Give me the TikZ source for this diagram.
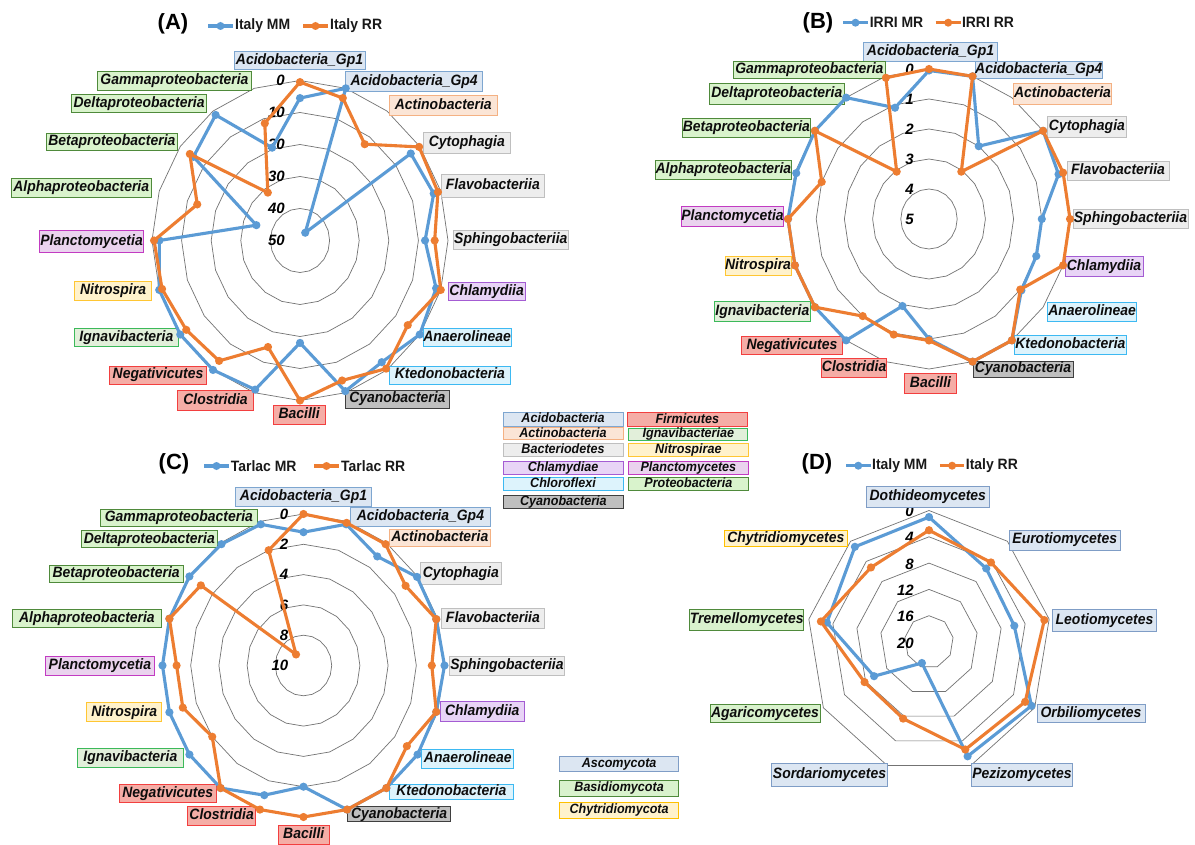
\documentclass[tikz,border=0pt]{standalone}
\usepackage{fontspec}
\setmainfont{Liberation Sans}
\usepackage{graphicx}
\definecolor{sblue}{HTML}{5B9BD5}
\definecolor{sorange}{HTML}{ED7D31}
\definecolor{acidoL}{HTML}{DCE6F2}\definecolor{acidoD}{HTML}{7EA6D0}
\definecolor{actinoL}{HTML}{FBE5D6}\definecolor{actinoD}{HTML}{F4B183}
\definecolor{bactL}{HTML}{EDEDED}\definecolor{bactD}{HTML}{BFBFBF}
\definecolor{chlamL}{HTML}{E8D4F6}\definecolor{chlamD}{HTML}{A45CD3}
\definecolor{chloroL}{HTML}{DDF3FC}\definecolor{chloroD}{HTML}{3DB9F2}
\definecolor{cyanoL}{HTML}{BFBFBF}\definecolor{cyanoD}{HTML}{3F3F3F}
\definecolor{firmL}{HTML}{F5ADA6}\definecolor{firmD}{HTML}{F23F3F}
\definecolor{ignaviL}{HTML}{E2EFDA}\definecolor{ignaviD}{HTML}{3CB95A}
\definecolor{nitroL}{HTML}{FFF2CC}\definecolor{nitroD}{HTML}{FFC633}
\definecolor{planctoL}{HTML}{EAD3EE}\definecolor{planctoD}{HTML}{C23BC2}
\definecolor{proteoL}{HTML}{D9F3CC}\definecolor{proteoD}{HTML}{4F8A3B}
\definecolor{ascoL}{HTML}{DCE6F2}\definecolor{ascoD}{HTML}{7F9DC6}
\definecolor{basidL}{HTML}{D9F2CD}\definecolor{basidD}{HTML}{4F8A3B}
\definecolor{chytrL}{HTML}{FFF2CC}\definecolor{chytrD}{HTML}{FFC000}
\newcommand\sqz[1]{\scalebox{0.93}[1]{#1}}
\newcommand\lbl[7]{\node[#2, minimum width={(#5)-(#3)}, minimum height={(#6)-(#4)}] (#1) at ({((#3)+(#5))/2},{((#4)+(#6))/2}) {\sqz{#7}};}
\tikzset{
  ring/.style={draw=black!55, line width=0.7pt},
  serB/.style={draw=sblue, line width=3.1pt, line join=round, line cap=round},
  serO/.style={draw=sorange, line width=3.1pt, line join=round, line cap=round},
  num/.style={font=\fontsize{15}{16}\selectfont\bfseries\itshape, inner sep=0pt, anchor=east, text=black},
  lab/.style={line width=0.9pt, inner sep=0pt, font=\fontsize{15}{16}\selectfont\bfseries\itshape, text=black!95, text height=10.6pt, text depth=3pt},
  keyfont/.style={font=\fontsize{13.5}{14}\selectfont\bfseries\itshape, text height=9.4pt, text depth=2.6pt},
  cAcido/.style={lab, draw=acidoD, fill=acidoL},
  cActino/.style={lab, draw=actinoD, fill=actinoL},
  cBact/.style={lab, draw=bactD, fill=bactL},
  cChlam/.style={lab, draw=chlamD, fill=chlamL},
  cChloro/.style={lab, draw=chloroD, fill=chloroL},
  cCyano/.style={lab, draw=cyanoD, fill=cyanoL},
  cFirm/.style={lab, draw=firmD, fill=firmL},
  cIgnavi/.style={lab, draw=ignaviD, fill=ignaviL},
  cNitro/.style={lab, draw=nitroD, fill=nitroL},
  cPlancto/.style={lab, draw=planctoD, fill=planctoL},
  cProteo/.style={lab, draw=proteoD, fill=proteoL},
  cAsco/.style={lab, draw=ascoD, fill=ascoL},
  cBasid/.style={lab, draw=basidD, fill=basidL},
  cChytr/.style={lab, draw=chytrD, fill=chytrL},
  ttl/.style={font=\fontsize{22}{24}\selectfont\bfseries, inner sep=0pt, text=black},
  leg/.style={font=\fontsize{15}{16}\selectfont\bfseries, inner sep=0pt, anchor=west, text=black!90},
}
\begin{document}
\begin{tikzpicture}[x=1pt, y=-1pt]
\useasboundingbox (0,0) rectangle (1195,845);
\fill[white] (0,0) rectangle (1195,845);

% ---------------- grids and data coordinates ----------------
\begin{scope}[shift={(300,240.5)}, x=148pt, y=-160pt]
  \foreach \f in {0.2,0.4,0.6,0.8,1}
    \draw[ring] (-90:\f) \foreach \k in {1,...,19} {-- ({18*\k-90}:\f)} -- cycle;
  \foreach \rv [count=\i from 0] in {0.89,1.0,0.06,0.925,0.95,0.845,0.967,1.0,0.94,0.99,0.64,0.98,1.0,1.0,1.0,0.95,0.31,0.89,0.97,0.61}
    \coordinate (AB\i) at ({18*\i-90}:\rv);
  \foreach \rv [count=\i from 0] in {0.99,0.936,0.744,0.995,0.98,0.91,1.0,0.90,0.99,0.92,1.0,0.70,0.93,0.95,0.98,0.986,0.73,0.92,0.37,0.77}
    \coordinate (AO\i) at ({18*\i-90}:\rv);
\end{scope}
\begin{scope}[shift={(929,219)}, x=141pt, y=-150pt]
  \foreach \f in {0.2,0.4,0.6,0.8,1}
    \draw[ring] (-90:\f) \foreach \k in {1,...,19} {-- ({18*\k-90}:\f)} -- cycle;
  \foreach \rv [count=\i from 0] in {0.99,1.0,0.6,1.0,0.966,0.8,0.8,0.81,1.0,1.0,0.8,0.61,1.0,1.0,1.0,1.0,0.99,1.0,1.0,0.78}
    \coordinate (BB\i) at ({18*\i-90}:\rv);
  \foreach \rv [count=\i from 0] in {1.0,1.0,0.39,1.0,1.0,1.0,1.0,0.80,1.0,1.0,0.81,0.81,0.80,1.0,1.0,1.0,0.80,1.0,0.39,0.99}
    \coordinate (BO\i) at ({18*\i-90}:\rv);
\end{scope}
\begin{scope}[shift={(303.5,665.5)}, x=141pt, y=-151.5pt]
  \foreach \f in {0.2,0.4,0.6,0.8,1}
    \draw[ring] (-90:\f) \foreach \k in {1,...,19} {-- ({18*\k-90}:\f)} -- cycle;
  \foreach \rv [count=\i from 0] in {0.88,0.98,0.89,0.995,0.99,1.0,0.99,1.0,1.0,1.0,0.80,0.90,1.0,1.0,1.0,1.0,1.0,1.0,0.99,0.98}
    \coordinate (CB\i) at ({18*\i-90}:\rv);
  \foreach \rv [count=\i from 0] in {1.0,0.99,0.99,0.895,0.99,0.91,0.99,0.906,1.0,1.0,1.0,1.0,1.0,0.80,0.90,0.90,1.0,0.90,0.09,0.80}
    \coordinate (CO\i) at ({18*\i-90}:\rv);
\end{scope}
\begin{scope}[shift={(929,642)}, x=122pt, y=-131.5pt]
  \foreach \f in {0.2,0.4,0.6,0.8,1}
    \draw[ring] (-90:\f) \foreach \k in {1,...,8} {-- ({40*\k-90}:\f)} -- cycle;
  \foreach \rv [count=\i from 0] in {0.95,0.73,0.71,0.97,0.925,0.17,0.52,0.85,0.945}
    \coordinate (DB\i) at ({40*\i-90}:\rv);
  \foreach \rv [count=\i from 0] in {0.85,0.79,0.96,0.91,0.87,0.62,0.61,0.90,0.74}
    \coordinate (DO\i) at ({40*\i-90}:\rv);
\end{scope}

% ---------------- axis numbers ----------------
\foreach \v [count=\i from 0] in {0,10,20,30,40,50} \node[num] (An\i) at (285,{80.5+32*\i}) {\v};
\foreach \v [count=\i from 0] in {0,1,2,3,4,5} \node[num] (Bn\i) at (914,{69+30*\i}) {\v};
\foreach \v [count=\i from 0] in {0,2,4,6,8,10} \node[num] (Cn\i) at (288.5,{514+30.3*\i}) {\v};
\foreach \v [count=\i from 0] in {0,4,8,12,16,20} \node[num] (Dn\i) at (914,{511.5+26.3*\i}) {\v};

% ---------------- chart A labels ----------------
\lbl{a0}{cAcido}{234}{51.7}{365}{69.5}{Acidobacteria\_Gp1}
\lbl{a1}{cAcido}{345.4}{71}{482.8}{91.7}{Acidobacteria\_Gp4}
\lbl{a2}{cActino}{389}{95.7}{497.6}{115}{Actinobacteria}
\lbl{a3}{cBact}{423}{132.7}{510.7}{153.3}{Cytophagia}
\lbl{a4}{cBact}{441.7}{174.3}{544}{197.7}{Flavobacteriia}
\lbl{a5}{cBact}{453.3}{230}{568.3}{249.5}{Sphingobacteriia}
\lbl{a6}{cChlam}{448.3}{282.7}{525}{300}{Chlamydiia}
\lbl{a7}{cChloro}{423.6}{328}{510.7}{346.7}{Anaerolineae}
\lbl{a8}{cChloro}{389}{366}{510.7}{384}{Ktedonobacteria}
\lbl{a9}{cCyano}{345.4}{390}{449.4}{408.3}{Cyanobacteria}
\lbl{a10}{cFirm}{273}{405}{325.4}{424}{Bacilli}
\lbl{a11}{cFirm}{177.3}{390.7}{253.8}{410}{Clostridia}
\lbl{a12}{cFirm}{109.5}{366}{206.6}{384}{Negativicutes}
\lbl{a13}{cIgnavi}{74.7}{328.3}{178}{346.7}{Ignavibacteria}
\lbl{a14}{cNitro}{74.7}{281.7}{151.5}{300}{Nitrospira}
\lbl{a15}{cPlancto}{39.6}{230.7}{143.6}{252.7}{Planctomycetia}
\lbl{a16}{cProteo}{11}{178.3}{151.5}{197.3}{Alphaproteobacteria}
\lbl{a17}{cProteo}{46.5}{133.3}{177.3}{150.7}{Betaproteobacteria}
\lbl{a18}{cProteo}{71.6}{94.3}{206.6}{112.7}{Deltaproteobacteria}
\lbl{a19}{cProteo}{97.5}{71}{251.4}{90.7}{Gammaproteobacteria}

% ---------------- chart B labels ----------------
\lbl{b0}{cAcido}{863.6}{42.7}{997.5}{61}{Acidobacteria\_Gp1}
\lbl{b1}{cAcido}{975}{61.7}{1102.5}{78.3}{Acidobacteria\_Gp4}
\lbl{b2}{cActino}{1013.6}{83.3}{1111.4}{104}{Actinobacteria}
\lbl{b3}{cBact}{1047}{116.7}{1126.8}{137.7}{Cytophagia}
\lbl{b4}{cBact}{1067}{161.7}{1169}{180}{Flavobacteriia}
\lbl{b5}{cBact}{1073}{209}{1188}{228}{Sphingobacteriia}
\lbl{b6}{cChlam}{1065}{256.7}{1143}{276}{Chlamydiia}
\lbl{b7}{cChloro}{1047.5}{302.7}{1136.8}{321.7}{Anaerolineae}
\lbl{b8}{cChloro}{1014}{335}{1126.8}{354}{Ktedonobacteria}
\lbl{b9}{cCyano}{973}{361}{1073}{377.3}{Cyanobacteria}
\lbl{b10}{cFirm}{904.6}{373.3}{956.4}{393.3}{Bacilli}
\lbl{b11}{cFirm}{821.4}{358.3}{886.8}{377.3}{Clostridia}
\lbl{b12}{cFirm}{741}{336.7}{842.9}{354}{Negativicutes}
\lbl{b13}{cIgnavi}{714}{301.7}{810.7}{321.7}{Ignavibacteria}
\lbl{b14}{cNitro}{725}{256}{791}{275.3}{Nitrospira}
\lbl{b15}{cPlancto}{682}{206.7}{783}{226.7}{Planctomycetia}
\lbl{b16}{cProteo}{655}{160.7}{791.8}{179}{Alphaproteobacteria}
\lbl{b17}{cProteo}{682}{118.3}{810.7}{137.7}{Betaproteobacteria}
\lbl{b18}{cProteo}{709.6}{83.3}{844}{104}{Deltaproteobacteria}
\lbl{b19}{cProteo}{733}{61.7}{885.7}{78.3}{Gammaproteobacteria}

% ---------------- chart C labels ----------------
\lbl{c0}{cAcido}{235.9}{487.3}{371.2}{506.7}{Acidobacteria\_Gp1}
\lbl{c1}{cAcido}{350.2}{507.7}{490.7}{526}{Acidobacteria\_Gp4}
\lbl{c2}{cActino}{389}{529.3}{490.7}{546.7}{Actinobacteria}
\lbl{c3}{cBact}{420.8}{562.7}{501}{584}{Cytophagia}
\lbl{c4}{cBact}{441.8}{608.3}{544}{628.3}{Flavobacteriia}
\lbl{c5}{cBact}{449.4}{656}{564.5}{675.7}{Sphingobacteriia}
\lbl{c6}{cChlam}{440}{701}{524.5}{721.7}{Chlamydiia}
\lbl{c7}{cChloro}{421.8}{749}{513.8}{768.3}{Anaerolineae}
\lbl{c8}{cChloro}{389}{784}{513.8}{799.3}{Ktedonobacteria}
\lbl{c9}{cCyano}{347.8}{806.7}{450.4}{821.7}{Cyanobacteria}
\lbl{c10}{cFirm}{278}{825}{329.5}{844}{Bacilli}
\lbl{c11}{cFirm}{187.7}{806.7}{255.5}{825}{Clostridia}
\lbl{c12}{cFirm}{119.5}{784}{216}{802.7}{Negativicutes}
\lbl{c13}{cIgnavi}{77.5}{748.3}{183.2}{767.7}{Ignavibacteria}
\lbl{c14}{cNitro}{86.8}{702.7}{161.8}{721.7}{Nitrospira}
\lbl{c15}{cPlancto}{45.5}{656}{154.3}{675.7}{Planctomycetia}
\lbl{c16}{cProteo}{12}{609.3}{161.8}{627.3}{Alphaproteobacteria}
\lbl{c17}{cProteo}{49}{565}{183.2}{582.7}{Betaproteobacteria}
\lbl{c18}{cProteo}{81.6}{530.7}{217}{547.7}{Deltaproteobacteria}
\lbl{c19}{cProteo}{100.6}{509}{257.2}{526}{Gammaproteobacteria}

% ---------------- chart D labels ----------------
\lbl{d0}{cAsco}{866.6}{486.7}{989}{507.3}{Dothideomycetes}
\lbl{d1}{cAsco}{1009}{530}{1120.6}{550}{Eurotiomycetes}
\lbl{d2}{cAsco}{1052.8}{609.3}{1156.3}{631.7}{Leotiomycetes}
\lbl{d3}{cAsco}{1037}{704}{1145}{722.7}{Orbiliomycetes}
\lbl{d4}{cAsco}{971}{763.3}{1072.9}{786}{Pezizomycetes}
\lbl{d5}{cAsco}{771.5}{763.3}{887.6}{786}{Sordariomycetes}
\lbl{d6}{cBasid}{710}{704}{820}{722.7}{Agaricomycetes}
\lbl{d7}{cBasid}{689.8}{609.3}{803.7}{630}{Tremellomycetes}
\lbl{d8}{cChytr}{724.6}{530}{847}{546.7}{Chytridiomycetes}

% ---------------- phylum legend ----------------
\lbl{k1}{cAcido,keyfont}{503}{412.7}{623}{426.3}{Acidobacteria}
\lbl{k2}{cActino,keyfont}{503}{427.7}{623}{439.5}{Actinobacteria}
\lbl{k3}{cBact,keyfont}{503}{443.3}{623}{456.9}{Bacteriodetes}
\lbl{k4}{cChlam,keyfont}{503}{461.5}{623}{474.8}{Chlamydiae}
\lbl{k5}{cChloro,keyfont}{503}{477.2}{623}{490.3}{Chloroflexi}
\lbl{k6}{cCyano,keyfont}{503}{495.2}{623.8}{508.2}{Cyanobacteria}
\lbl{k7}{cFirm,keyfont}{627.3}{412.7}{747.3}{426.5}{Firmicutes}
\lbl{k8}{cIgnavi,keyfont}{628.7}{428.3}{747.9}{440.7}{Ignavibacteriae}
\lbl{k9}{cNitro,keyfont}{628.7}{443.3}{748}{456.9}{Nitrospirae}
\lbl{k10}{cPlancto,keyfont}{628.7}{461}{748}{474.3}{Planctomycetes}
\lbl{k11}{cProteo,keyfont}{628.7}{477.7}{748}{490.7}{Proteobacteria}

% ---------------- fungal legend ----------------
\lbl{f1}{cAsco,keyfont}{559.5}{756}{678.7}{771.7}{Ascomycota}
\lbl{f2}{cBasid,keyfont}{559.5}{780}{678.7}{796}{Basidiomycota}
\lbl{f3}{cChytr,keyfont}{559.5}{802.7}{678.7}{818.3}{Chytridiomycota}

% ---------------- data series ----------------
\draw[serB] (AB0) \foreach \i in {1,...,19} {-- (AB\i)} -- cycle;
\foreach \i in {0,...,19} \fill[sblue] (AB\i) circle (4.1pt);
\draw[serO] (AO0) \foreach \i in {1,...,19} {-- (AO\i)} -- cycle;
\foreach \i in {0,...,19} \fill[sorange] (AO\i) circle (4.1pt);

\draw[serB] (BB0) \foreach \i in {1,...,19} {-- (BB\i)} -- cycle;
\foreach \i in {0,...,19} \fill[sblue] (BB\i) circle (4.1pt);
\draw[serO] (BO0) \foreach \i in {1,...,19} {-- (BO\i)} -- cycle;
\foreach \i in {0,...,19} \fill[sorange] (BO\i) circle (4.1pt);

\draw[serB] (CB0) \foreach \i in {1,...,19} {-- (CB\i)} -- cycle;
\foreach \i in {0,...,19} \fill[sblue] (CB\i) circle (4.1pt);
\draw[serO] (CO0) \foreach \i in {1,...,19} {-- (CO\i)} -- cycle;
\foreach \i in {0,...,19} \fill[sorange] (CO\i) circle (4.1pt);

\draw[serB] (DB0) \foreach \i in {1,...,8} {-- (DB\i)} -- cycle;
\foreach \i in {0,...,8} \fill[sblue] (DB\i) circle (4.1pt);
\draw[serO] (DO0) \foreach \i in {1,...,8} {-- (DO\i)} -- cycle;
\foreach \i in {0,...,8} \fill[sorange] (DO\i) circle (4.1pt);

% ---------------- titles and series legends ----------------
\node[ttl] (tA) at (173,24) {(A)};
\coordinate (gA1) at (208,26); \coordinate (gA2) at (233,26); \coordinate (gA3) at (220.5,26);
\draw[serB, line cap=butt] (gA1) -- (gA2); \fill[sblue] (gA3) circle (4pt);
\node[leg] (tA1) at (235,26) {\sqz{Italy MM}};
\coordinate (gA4) at (303,26); \coordinate (gA5) at (328,26); \coordinate (gA6) at (315.5,26);
\draw[serO, line cap=butt] (gA4) -- (gA5); \fill[sorange] (gA6) circle (4pt);
\node[leg] (tA2) at (330,26) {\sqz{Italy RR}};

\node[ttl] (tB) at (818,22.5) {(B)};
\coordinate (gB1) at (843,22.7); \coordinate (gB2) at (868,22.7); \coordinate (gB3) at (855.5,22.7);
\draw[serB, line cap=butt] (gB1) -- (gB2); \fill[sblue] (gB3) circle (4pt);
\node[leg] (tB1) at (869.6,22.7) {\sqz{IRRI MR}};
\coordinate (gB4) at (935.7,22.7); \coordinate (gB5) at (960.7,22.7); \coordinate (gB6) at (948.2,22.7);
\draw[serO, line cap=butt] (gB4) -- (gB5); \fill[sorange] (gB6) circle (4pt);
\node[leg] (tB2) at (961.8,22.7) {\sqz{IRRI RR}};

\node[ttl] (tC) at (174,464) {(C)};
\coordinate (gC1) at (204,466); \coordinate (gC2) at (229,466); \coordinate (gC3) at (216.5,466);
\draw[serB, line cap=butt] (gC1) -- (gC2); \fill[sblue] (gC3) circle (4pt);
\node[leg] (tC1) at (230.7,466) {\sqz{Tarlac MR}};
\coordinate (gC4) at (314,466); \coordinate (gC5) at (339,466); \coordinate (gC6) at (326.5,466);
\draw[serO, line cap=butt] (gC4) -- (gC5); \fill[sorange] (gC6) circle (4pt);
\node[leg] (tC2) at (341,466) {\sqz{Tarlac RR}};

\node[ttl] (tD) at (817,464) {(D)};
\coordinate (gD1) at (846,465.7); \coordinate (gD2) at (870.6,465.7); \coordinate (gD3) at (858.3,465.7);
\draw[serB, line cap=butt] (gD1) -- (gD2); \fill[sblue] (gD3) circle (4pt);
\node[leg] (tD1) at (872,465.7) {\sqz{Italy MM}};
\coordinate (gD4) at (939.8,465.7); \coordinate (gD5) at (964.4,465.7); \coordinate (gD6) at (952.1,465.7);
\draw[serO, line cap=butt] (gD4) -- (gD5); \fill[sorange] (gD6) circle (4pt);
\node[leg] (tD2) at (965.7,465.7) {\sqz{Italy RR}};
\end{tikzpicture}
\end{document}
